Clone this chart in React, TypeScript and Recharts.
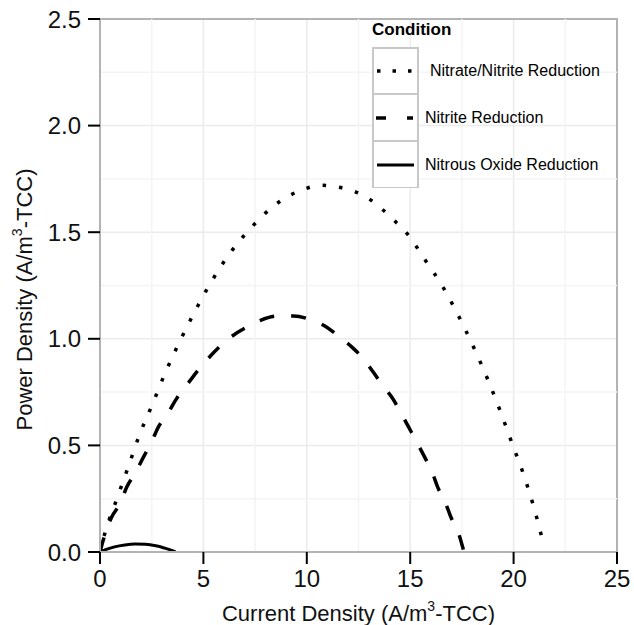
import React from "react";
import {
  LineChart,
  Line,
  XAxis,
  YAxis,
  CartesianGrid,
  ReferenceLine,
  ReferenceArea,
} from "recharts";

// values (x = current density, y = power density)
const nitrateX = [0, 0.24, 0.8, 1.36, 1.9, 2.53, 3.14, 3.82, 4.56, 5.35, 6.25, 7.27, 8.45, 9.87, 10.67, 11.47, 12.28, 13.0, 13.65, 14.26, 14.82, 15.74, 16.62, 17.4, 18.12, 18.76, 19.36, 19.92, 20.48, 20.98, 21.4];
const nitrateY = [0, 0.09, 0.245, 0.397, 0.547, 0.692, 0.837, 0.98, 1.123, 1.262, 1.397, 1.517, 1.627, 1.702, 1.72, 1.712, 1.692, 1.657, 1.607, 1.552, 1.497, 1.367, 1.237, 1.095, 0.949, 0.807, 0.66, 0.511, 0.364, 0.21, 0.055];

const nitriteX = [0, 0.2, 0.56, 0.97, 1.29, 1.69, 2.1, 2.47, 2.82, 3.27, 3.7, 4.19, 4.67, 5.15, 5.77, 6.38, 7.12, 7.76, 8.61, 9.36, 10.17, 10.89, 11.6, 12.17, 12.73, 13.21, 13.7, 14.16, 14.57, 14.94, 15.32, 15.7, 16.06, 16.33, 16.69, 16.97, 17.35, 17.6];
const nitriteY = [0, 0.07, 0.163, 0.227, 0.304, 0.367, 0.445, 0.511, 0.586, 0.649, 0.719, 0.782, 0.844, 0.899, 0.962, 1.012, 1.056, 1.087, 1.107, 1.107, 1.09, 1.059, 1.007, 0.962, 0.907, 0.844, 0.777, 0.719, 0.649, 0.583, 0.515, 0.445, 0.375, 0.304, 0.234, 0.163, 0.085, 0];

const nitrousX = [0, 0.3, 0.7, 1.2, 1.7, 2.2, 2.7, 3.1, 3.4, 3.65];
const nitrousY = [0, 0.012, 0.024, 0.033, 0.037, 0.036, 0.029, 0.019, 0.01, 0];

const xTicks = [0, 5, 10, 15, 20, 25];
const yTicks = [0, 0.5, 1.0, 1.5, 2.0, 2.5];
const xMinor = [2.5, 7.5, 12.5, 17.5, 22.5];
const yMinor = [0.25, 0.75, 1.25, 1.75, 2.25];

const toPoints = (xs: number[], ys: number[]) => xs.map((x, i) => ({ x, y: ys[i] }));

const series = [
  { name: "Nitrate/Nitrite Reduction", data: toPoints(nitrateX, nitrateY), dash: "3.5 13", width: 3.5 },
  { name: "Nitrite Reduction", data: toPoints(nitriteX, nitriteY), dash: "15 17", width: 3.5 },
  { name: "Nitrous Oxide Reduction", data: toPoints(nitrousX, nitrousY), dash: undefined, width: 3 },
];

const FONT = "'Liberation Sans', Arial, sans-serif";

function LegendBox() {
  return (
    <div style={{ position: "absolute", left: 372, top: 20, fontFamily: FONT, color: "#000" }}>
      <div style={{ fontWeight: "bold", fontSize: 17, height: 27, lineHeight: "20px" }}>Condition</div>
      <div style={{ display: "flex", flexDirection: "column" }}>
        {series.map((s, i) => (
          <div key={s.name} style={{ display: "flex", alignItems: "center", height: 47 }}>
            <svg width={47} height={47} style={{ display: "block" }}>
              <rect x={1} y={i === 0 ? 1 : 0} width={45} height={i === 0 ? 46 : 47} fill="#fff" stroke="#c8c8c8" strokeWidth={2} />
              <line
                x1={i === 1 ? 4 : 5}
                x2={i === 1 ? 41 : 42}
                y1={24}
                y2={24}
                stroke="#000"
                strokeWidth={s.width}
                strokeDasharray={i === 0 ? "3.5 12" : i === 1 ? "10 21" : undefined}
              />
            </svg>
            <span style={{ fontSize: 16, marginLeft: i === 0 ? 11 : 6, whiteSpace: "nowrap" }}>{s.name}</span>
          </div>
        ))}
      </div>
    </div>
  );
}

function XTitle(props: any) {
  const vb = props.viewBox || {};
  const cx = vb.x + vb.width / 2;
  const y = vb.y + 69;
  return (
    <text x={cx} y={y} textAnchor="middle" fontSize={22} fontFamily={FONT} fill="#111">
      Current Density (A/m<tspan dy={-10} fontSize={14}>3</tspan><tspan dy={10}>-TCC)</tspan>
    </text>
  );
}

function YTitle(props: any) {
  const vb = props.viewBox || {};
  const cy = vb.y + vb.height / 2 + 14;
  const x = 32;
  return (
    <text x={x} y={cy} textAnchor="middle" fontSize={22} fontFamily={FONT} fill="#111" transform={`rotate(-90 ${x} ${cy})`}>
      Power Density (A/m<tspan dy={-10} fontSize={14}>3</tspan><tspan dy={10}>-TCC)</tspan>
    </text>
  );
}

export default function App() {
  return (
    <div style={{ position: "relative", width: 634, height: 625, background: "#fff" }}>
      <style>{"body{margin:0;}"}</style>
      <LineChart width={634} height={625} margin={{ top: 19, right: 17, left: 10, bottom: 13 }}>
        <CartesianGrid stroke="#ebebeb" strokeWidth={1.5} horizontalValues={yTicks} verticalValues={xTicks} />
        {xMinor.map((v) => (
          <ReferenceLine key={"xm" + v} x={v} stroke="#f4f4f4" strokeWidth={1.5} />
        ))}
        {yMinor.map((v) => (
          <ReferenceLine key={"ym" + v} y={v} stroke="#f4f4f4" strokeWidth={1.5} />
        ))}
        <ReferenceArea x1={0} x2={25} y1={0} y2={2.5} fill="none" stroke="#b3b3b3" strokeWidth={2} />
        <XAxis
          type="number"
          dataKey="x"
          domain={[0, 25]}
          ticks={xTicks}
          allowDataOverflow
          height={60}
          tickSize={12}
          tickMargin={6}
          axisLine={{ stroke: "#b3b3b3", strokeWidth: 2 }}
          tickLine={{ stroke: "#000", strokeWidth: 2 }}
          tick={{ fontSize: 24, fill: "#111", fontFamily: FONT }}
          label={<XTitle />}
        />
        <YAxis
          type="number"
          dataKey="y"
          domain={[0, 2.5]}
          ticks={yTicks}
          allowDataOverflow
          width={90}
          tickSize={12}
          tickMargin={7}
          axisLine={{ stroke: "#b3b3b3", strokeWidth: 2 }}
          tickLine={{ stroke: "#000", strokeWidth: 2 }}
          tick={{ fontSize: 24, fill: "#111", fontFamily: FONT }}
          tickFormatter={(v: number) => v.toFixed(1)}
          label={<YTitle />}
        />
        {series.map((s) => (
          <Line
            key={s.name}
            data={s.data}
            dataKey="y"
            name={s.name}
            type="monotone"
            stroke="#000"
            strokeWidth={s.width}
            strokeDasharray={s.dash}
            strokeLinecap="butt"
            dot={false}
            activeDot={false}
            isAnimationActive={false}
          />
        ))}
      </LineChart>
      <LegendBox />
    </div>
  );
}
